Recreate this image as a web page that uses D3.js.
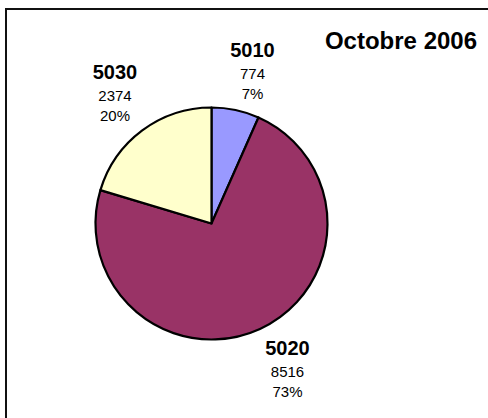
<!DOCTYPE html>
<html>
<head>
<meta charset="utf-8">
<script src="https://cdn.jsdelivr.net/npm/d3@7"></script>
<style>
  html, body { margin: 0; padding: 0; background: #fff; }
  svg { display: block; font-family: Arial, "Liberation Sans", sans-serif; }
</style>
</head>
<body>
<svg id="chart" width="488" height="418"></svg>
<script>
const categories = ["5010", "5020", "5030"];
const values = [774, 8516, 2374];
const colors = ["#9999FF", "#993366", "#FFFFCC"];
const title = "Octobre 2006";

const svg = d3.select("#chart");

// frame
svg.append("rect")
  .attr("x", 6).attr("y", 9)
  .attr("width", 520).attr("height", 440)
  .attr("fill", "#fff")
  .attr("stroke", "#111").attr("stroke-width", 2);

const cx = 211.5, cy = 223.5, r = 116;
const total = d3.sum(values);
const data = categories.map((c, i) => ({ cat: c, value: values[i], color: colors[i] }));

const pie = d3.pie().sort(null).value(d => d.value);
const arc = d3.arc().innerRadius(0).outerRadius(r);
const arcs = pie(data);

const g = svg.append("g").attr("transform", `translate(${cx},${cy})`);
g.selectAll("path").data(arcs).enter().append("path")
  .attr("d", arc)
  .attr("fill", d => d.data.color)
  .attr("stroke", "#000")
  .attr("stroke-width", 2.2)
  .attr("stroke-linejoin", "round");

// label anchor positions (center x, baseline of first line), relative to pie center
const labelOffsets = {
  "5010": [41, -166.5],
  "5020": [76, 131.5],
  "5030": [-96.5, -144.5]
};
const pct = d3.format(".0%");
const lab = svg.append("g");
arcs.forEach(a => {
  const [dx, dy] = labelOffsets[a.data.cat];
  const x = cx + dx, y = cy + dy;
  const t = lab.append("text").attr("text-anchor", "middle").attr("fill", "#000");
  t.append("tspan").attr("x", x).attr("y", y)
    .attr("font-weight", "bold").attr("font-size", 20).text(a.data.cat);
  t.append("tspan").attr("x", x).attr("y", y + 21.5)
    .attr("font-size", 15).text(a.data.value);
  t.append("tspan").attr("x", x).attr("y", y + 42)
    .attr("font-size", 15).text(pct(a.data.value / total));
});

svg.append("text")
  .attr("x", 401).attr("y", 49)
  .attr("text-anchor", "middle")
  .attr("font-weight", "bold").attr("font-size", 24)
  .text(title);
</script>
</body>
</html>
